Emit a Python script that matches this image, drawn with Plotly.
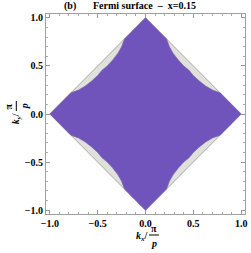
import plotly.graph_objects as go

# Brillouin-zone diamond (|kx|+|ky|=1), first-quadrant Fermi arc
diamond_kx = [0.0, 1.0, 0.0, -1.0, 0.0]
diamond_ky = [1.0, 0.0, -1.0, 0.0, 1.0]
arc_kx = [0.22, 0.25, 0.29, 0.345, 0.40, 0.455, 0.50, 0.56, 0.63, 0.70, 0.78]
arc_ky = [0.78, 0.70, 0.63, 0.56, 0.50, 0.455, 0.40, 0.345, 0.29, 0.25, 0.22]
tick_vals = [-1.0, -0.5, 0.0, 0.5, 1.0]
title_text = "Fermi surface  \u2013  x=0.15"
panel_label = "(b)"

# build full purple region from quadrant arc using symmetry
px, py = [0.0], [1.0]
px += arc_kx; py += arc_ky
px += [1.0]; py += [0.0]
px += arc_kx[::-1]; py += [-v for v in arc_ky[::-1]]
px += [0.0]; py += [-1.0]
px += [-v for v in arc_kx]; py += [-v for v in arc_ky]
px += [-1.0]; py += [0.0]
px += [-v for v in arc_kx[::-1]]; py += arc_ky[::-1]
px += [0.0]; py += [1.0]

fig = go.Figure()
fig.add_trace(go.Scatter(x=diamond_kx, y=diamond_ky, fill="toself", mode="lines",
                         fillcolor="rgb(225,225,219)", line=dict(color="rgb(150,150,150)", width=0.8),
                         hoverinfo="skip", showlegend=False))
fig.add_trace(go.Scatter(x=px, y=py, fill="toself", mode="lines",
                         fillcolor="rgb(112,84,188)", line=dict(color="rgb(120,100,170)", width=0.6),
                         hoverinfo="skip", showlegend=False))

FAM = "Liberation Serif, Times New Roman, serif"
font = dict(family=FAM, size=10, color="black")
axis_common = dict(range=[-1.04, 1.04], tickvals=tick_vals, tickformat=".1f",
                   ticks="inside", ticklen=4, tickcolor="rgb(150,150,150)",
                   minor=dict(ticks="inside", dtick=0.1, ticklen=2, tickcolor="rgb(170,170,170)"),
                   showgrid=False, zeroline=False, showline=True, linecolor="rgb(160,160,160)",
                   linewidth=1, mirror="ticks", ticklabeloverflow="allow",
                   tickfont=dict(family=FAM, size=10, color="black", weight="bold"))
fig.update_xaxes(**axis_common)
fig.update_yaxes(**axis_common)
fig.update_layout(width=251, height=253, margin=dict(l=46, r=4, t=14, b=39),
                  plot_bgcolor="white", paper_bgcolor="white", font=font)

bf = dict(family=FAM, size=10, color="black")
fig.add_annotation(text="<b>" + panel_label + "</b>", xref="paper", yref="paper",
                   x=(62 - 46) / 201, y=1 + 8 / 200, showarrow=False, font=bf, yanchor="middle")
fig.add_annotation(text="<b>" + title_text + "</b>", xref="paper", yref="paper",
                   x=(145 - 46) / 201, y=1 + 8 / 200, showarrow=False, font=bf, yanchor="middle")
# x-axis label k_x / (pi/p)
fig.add_annotation(text="<b><i>k<sub>x</sub></i>/</b>", xref="paper", yref="paper",
                   x=(143 - 46) / 201, y=-(236 - 214) / 200, showarrow=False, font=bf, yanchor="middle")
fig.add_annotation(text="<b>\u03c0</b>", xref="paper", yref="paper",
                   x=(155 - 46) / 201, y=-(228 - 214) / 200, showarrow=False, font=bf, yanchor="middle")
fig.add_annotation(text="<b><i>p</i></b>", xref="paper", yref="paper",
                   x=(155 - 46) / 201, y=-(243 - 214) / 200, showarrow=False, font=bf, yanchor="middle")
fig.add_shape(type="line", xref="paper", yref="paper",
              x0=(150 - 46) / 201, x1=(160 - 46) / 201, y0=-(235 - 214) / 200, y1=-(235 - 214) / 200,
              line=dict(color="black", width=1))
# y-axis label k_y / (pi/p), rotated
fig.add_annotation(text="<b><i>k<sub>y</sub></i>/</b>", xref="paper", yref="paper",
                   x=-(46 - 16) / 201, y=(214 - 119) / 200, showarrow=False, font=bf,
                   textangle=-90, xanchor="center", yanchor="middle")
fig.add_annotation(text="<b>\u03c0</b>", xref="paper", yref="paper",
                   x=-(46 - 8) / 201, y=(214 - 106) / 200, showarrow=False, font=bf,
                   textangle=-90, xanchor="center", yanchor="middle")
fig.add_annotation(text="<b><i>p</i></b>", xref="paper", yref="paper",
                   x=-(46 - 24) / 201, y=(214 - 106) / 200, showarrow=False, font=bf,
                   textangle=-90, xanchor="center", yanchor="middle")
fig.add_shape(type="line", xref="paper", yref="paper",
              x0=-(46 - 16) / 201, x1=-(46 - 16) / 201, y0=(214 - 101) / 200, y1=(214 - 111) / 200,
              line=dict(color="black", width=1))

fig.write_html("out.html", config={"displayModeBar": False},
               post_script="document.body.style.margin='0';")
